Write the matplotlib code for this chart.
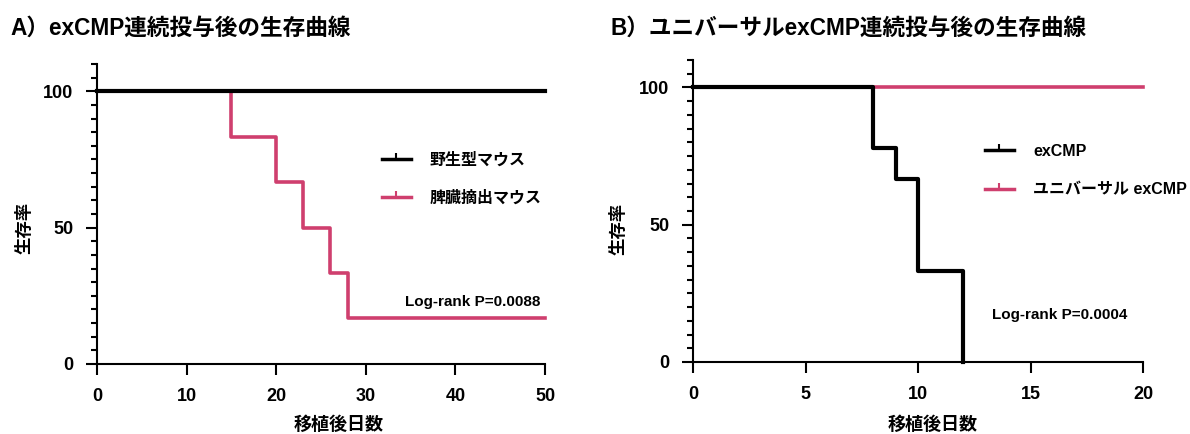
import matplotlib.pyplot as plt
from matplotlib.lines import Line2D
from matplotlib.ticker import MultipleLocator

plt.rcParams['font.family'] = ['Liberation Sans', 'Noto Sans CJK JP']
plt.rcParams['font.weight'] = 'bold'

PINK = '#CF3F6E'

# panel A: days after transplant / survival (%)
a_wt_days = [0, 50]
a_wt_surv = [100, 100]
a_spl_days = [0, 15, 20, 23, 26, 28, 50]
a_spl_surv = [100, 83.3, 66.7, 50, 33.3, 16.7, 16.7]
a_labels = ['野生型マウス', '脾臓摘出マウス']
a_p = 'Log-rank P=0.0088'

# panel B
b_ex_days = [0, 8, 9, 10, 12]
b_ex_surv = [100, 77.8, 66.7, 33.3, 0]
b_uni_days = [0, 20]
b_uni_surv = [100, 100]
b_labels = ['exCMP', 'ユニバーサル exCMP']
b_p = 'Log-rank P=0.0004'

fig = plt.figure(figsize=(11.9, 4.34), dpi=100)
axA = fig.add_axes([0.0815, 0.1613, 0.3765, 0.6912])
axB = fig.add_axes([0.5824, 0.1659, 0.3781, 0.6959])


def style(ax, xmax, xstep):
    ax.set_xlim(0, xmax)
    ax.set_ylim(0, 110)
    for s in ['top', 'right']:
        ax.spines[s].set_visible(False)
    for s in ['left', 'bottom']:
        ax.spines[s].set_linewidth(1.5)
    ax.xaxis.set_major_locator(MultipleLocator(xstep))
    ax.yaxis.set_major_locator(MultipleLocator(50))
    ax.yaxis.set_minor_locator(MultipleLocator(5))
    ax.tick_params(which='major', length=8, width=1.5, labelsize=13, pad=9)
    ax.tick_params(which='minor', length=4.5, width=1.5)
    ax.set_xlabel('移植後日数', fontsize=13, fontweight='bold')
    ax.set_ylabel('生存率', fontsize=12.5, fontweight='bold')


def legend(ax, labels, x, y):
    h = [Line2D([], [], color='black', lw=2.5, marker=2, ms=4, mew=1.5),
         Line2D([], [], color=PINK, lw=2.5, marker=2, ms=4, mew=1.5)]
    ax.legend(h, labels, loc='upper left', bbox_to_anchor=(x / 1190, 1 - y / 434),
              bbox_transform=fig.transFigure, frameon=False, fontsize=11.5, numpoints=1,
              handlelength=1.8, handletextpad=1.2, labelspacing=1.45, borderpad=0,
              borderaxespad=0)


style(axA, 50, 10)
axA.step(a_spl_days, a_spl_surv, where='post', color=PINK, lw=2.6, clip_on=False)
axA.step(a_wt_days, a_wt_surv, where='post', color='black', lw=3, clip_on=False)
axA.xaxis.set_label_coords(0.54, -0.175)
axA.yaxis.set_label_coords(-0.143, 0.455)
legend(axA, a_labels, 382, 152)
axA.text(540 / 1190, 1 - 302 / 434, a_p, transform=fig.transFigure, ha='right', va='center',
         fontsize=11, fontweight='bold')
fig.text(10 / 1190, 1 - 28 / 434, 'A）exCMP連続投与後の生存曲線', fontsize=16.3, fontweight='bold',
         va='center', ha='left')

style(axB, 20, 5)
axB.step(b_uni_days, b_uni_surv, where='post', color=PINK, lw=2.6, clip_on=False)
axB.step(b_ex_days, b_ex_surv, where='post', color='black', lw=3, clip_on=False)
axB.xaxis.set_label_coords(0.533, -0.18)
axB.yaxis.set_label_coords(-0.149, 0.44)
legend(axB, b_labels, 985, 144)
axB.text(992 / 1190, 1 - 315 / 434, b_p, transform=fig.transFigure, ha='left', va='center',
         fontsize=11, fontweight='bold')
fig.text(610 / 1190, 1 - 28 / 434, 'B）ユニバーサルexCMP連続投与後の生存曲線', fontsize=16.3,
         fontweight='bold', va='center', ha='left')

fig.savefig('out.png', dpi=100)
